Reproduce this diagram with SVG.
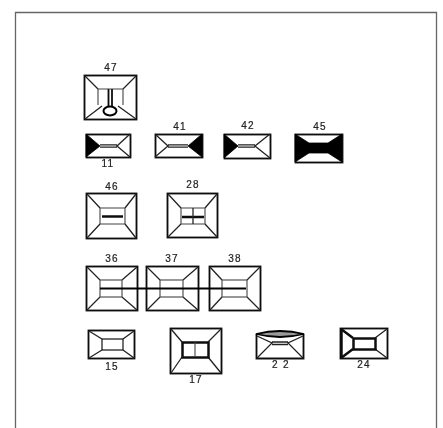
<svg xmlns="http://www.w3.org/2000/svg" width="443" height="428" viewBox="0 0 443 428">
<defs><filter id="soft" x="-5%" y="-5%" width="110%" height="110%"><feGaussianBlur stdDeviation="0.7"/></filter></defs>
<style>
.o{fill:none;stroke:#111;stroke-width:1.800}
.l{fill:none;stroke:#222;stroke-width:1.300}
.t{fill:none;stroke:#111;stroke-width:2.500}
.k{fill:#000;stroke:#000;stroke-width:.8}
.m{fill:none;stroke:#444;stroke-width:1.100}
text{font-family:"Liberation Sans",Arial,sans-serif;font-size:10px;fill:#222;text-anchor:middle;letter-spacing:1.300px;stroke:#222;stroke-width:.2}
</style>
<rect width="443" height="428" fill="#fff"/>
<path d="M15.5 428V12.5H436.500V428" fill="none" stroke="#666" stroke-width="1.300"/>
<g filter="url(#soft)">
<g id="n47"><rect class="o" x="84.500" y="75.500" width="52" height="44"/><path class="l" d="M85 76L98 89M136 76L123 89M85 119L102 106M136 119L118 106"/><path class="m" d="M98 105V89H123V105"/><path class="o" d="M108.500 89V106M112 89V106"/><ellipse cx="110" cy="111" rx="6.500" ry="4.500" fill="#fff" stroke="#000" stroke-width="2"/><text x="111" y="71">47</text></g>
<g id="n11"><rect class="o" x="86.500" y="134.500" width="44" height="23"/><path class="k" d="M86 134L100 146L86 157Z"/><path class="l" d="M130 134L117 146L130 157M100 144.800H117M100 147.200H117"/><text x="108" y="167">11</text></g>
<g id="n41"><rect class="o" x="155.500" y="134.500" width="47" height="23"/><path class="k" d="M202 134L188 146L202 157Z"/><path class="l" d="M155 134L168 146L155 157M168 144.800H188M168 147.200H188"/><text x="180" y="130">41</text></g>
<g id="n42"><rect class="o" x="224.500" y="134.500" width="46" height="24"/><path class="k" d="M224 134L238 146L224 158Z"/><path class="l" d="M270 134L255 146L270 158M238 144.800H255M238 147.200H255"/><text x="248" y="129">42</text></g>
<g id="n45"><rect class="o" x="295.500" y="134.500" width="47" height="28"/><path class="k" d="M295 134L309 143H328L342 134V162L328 153H309L295 162Z"/><text x="320" y="130">45</text></g>
<g id="n46"><rect class="o" x="86.500" y="193.500" width="50" height="45"/><path class="l" d="M87 194L100 208M136 194L125 208M87 238L100 224M136 238L125 224"/><path class="m" d="M100 208V224M125 208V224M100 208H125M100 224H125"/><path class="t" d="M102 216.500H123"/><text x="112" y="190">46</text></g>
<g id="n28"><rect class="o" x="167.500" y="193.500" width="50" height="44"/><path class="l" d="M168 194L181 208M217 194L205 208M168 237L181 224M217 237L205 224"/><path class="m" d="M181 208V224M205 208V224M181 208H205M181 224H205"/><path class="t" d="M182 217H204"/><path class="l" d="M193 208V224"/><text x="193" y="188">28</text></g>
<g id="n36"><rect class="o" x="86.500" y="266.500" width="51" height="44"/><path class="l" d="M87 267L100 280M137 267L122 280M87 310L100 297M137 310L122 297"/><rect class="m" x="100" y="280" width="22" height="17"/><text x="112" y="262">36</text></g>
<g id="n37"><rect class="o" x="146.500" y="266.500" width="52" height="44"/><path class="l" d="M147 267L160 280M198 267L183 280M147 310L160 297M198 310L183 297"/><rect class="m" x="160" y="280" width="23" height="17"/><text x="172" y="262">37</text></g>
<g id="n38"><rect class="o" x="209.500" y="266.500" width="51" height="44"/><path class="l" d="M210 267L222 280M260 267L247 280M210 310L222 297M260 310L247 297"/><rect class="m" x="222" y="280" width="25" height="17"/><text x="235" y="262">38</text></g>
<g id="n15"><rect class="o" x="88.500" y="330.500" width="46" height="28"/><path class="l" d="M89 331L102 339M134 331L123 339M89 358L102 350M134 358L123 350"/><rect class="l" x="102" y="339" width="21" height="11"/><text x="112" y="370">15</text></g>
<g id="n17"><rect class="o" x="170.500" y="328.500" width="51" height="45"/><path class="l" d="M171 329L182 342M221 329L208 342M171 373L182 357M221 373L208 357"/><rect class="t" x="182.500" y="342.500" width="26" height="15"/><path class="m" d="M195 342V357"/><text x="196" y="383">17</text></g>
<g id="n22"><path class="o" d="M256.500 334V358.500H303.500V334"/><path class="l" d="M257 336L272 343L257 358M303 336L288 343L303 358M272 342H288M272 344.500H288"/><path d="M256 334Q280 328 304 334Q280 340 256 334Z" fill="#999" stroke="#000" stroke-width="1.800"/><text x="281" y="368" letter-spacing="2">2 2</text></g>
<g id="n24"><rect class="o" x="340.500" y="328.500" width="47" height="30"/><path class="l" d="M387 329L375 338M387 358L375 349"/><path class="t" d="M341 329L353 338M341 358L353 349"/><rect class="t" x="353.500" y="338.500" width="22" height="11"/><path class="t" d="M341.500 329V358"/><text x="364" y="368">24</text></g>
<g id="connectors"><path d="M100 288.500H246" fill="none" stroke="#000" stroke-width="2.200"/></g>
</g>
</svg>
